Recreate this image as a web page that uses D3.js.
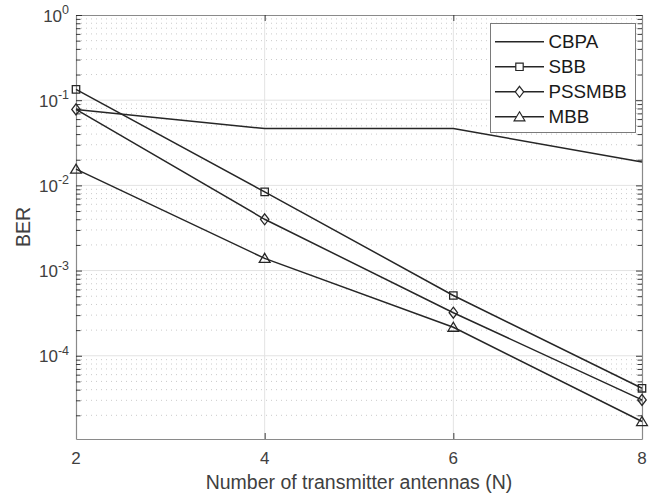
<!DOCTYPE html>
<html>
<head>
<meta charset="utf-8">
<script src="https://cdn.jsdelivr.net/npm/d3@7"></script>
<style>
  html, body { margin: 0; padding: 0; background: #fff; }
  svg { display: block; font-family: "Liberation Sans", Arial, Helvetica, sans-serif; }
</style>
</head>
<body>
<svg id="chart" width="653" height="494"></svg>
<script>
// BER versus number of transmit antennas for four detection schemes
const antennas = [2, 4, 6, 8];
const xTicks = [2, 4, 6, 8];
const yDecades = [1e0, 1e-1, 1e-2, 1e-3, 1e-4];
const yExponents = ["0", "-1", "-2", "-3", "-4"];
const seriesNames = ["CBPA", "SBB", "PSSMBB", "MBB"];
const seriesMarkers = ["none", "square", "diamond", "triangle"];
const cbpa = [0.078, 0.0465, 0.0465, 0.0188];
const sbb = [0.134, 0.0084, 5.1e-4, 4.15e-5];
const pssmbb = [0.078, 0.0040, 3.2e-4, 3.03e-5];
const mbb = [0.0155, 0.00139, 2.16e-4, 1.69e-5];
const seriesValues = [cbpa, sbb, pssmbb, mbb];

const svg = d3.select("#chart");
const plotL = 76, plotR = 642, plotT = 15, plotB = 439;
const ink = "#262626";
const textColor = "#404040";
const axisColor = "#8a8a8a";

const x = d3.scaleLinear().domain([2, 8]).range([plotL, plotR]);
const y = d3.scaleLog().domain([1.054e-5, 1]).range([plotB, plotT]);

// minor log positions (2..9 x each decade) inside the domain
const minorVals = [];
for (let e = -5; e <= -1; e++) {
  for (let k = 2; k <= 9; k++) {
    const v = k * Math.pow(10, e);
    if (v >= y.domain()[0] && v <= y.domain()[1]) minorVals.push(v);
  }
}

// grid: dotted minor, solid major
const grid = svg.append("g");
grid.selectAll("line.minor").data(minorVals).enter().append("line")
  .attr("x1", plotL).attr("x2", plotR)
  .attr("y1", d => y(d)).attr("y2", d => y(d))
  .attr("stroke", "#cacaca").attr("stroke-width", 1)
  .attr("stroke-dasharray", "1,4");
grid.selectAll("line.majy").data(yDecades.slice(1)).enter().append("line")
  .attr("x1", plotL).attr("x2", plotR)
  .attr("y1", d => y(d)).attr("y2", d => y(d))
  .attr("stroke", "#e3e3e3").attr("stroke-width", 1);
grid.selectAll("line.majx").data(xTicks.slice(1, -1)).enter().append("line")
  .attr("y1", plotT).attr("y2", plotB)
  .attr("x1", d => x(d)).attr("x2", d => x(d))
  .attr("stroke", "#e3e3e3").attr("stroke-width", 1);

// axes with inward ticks on all four sides
function styleAxis(g) {
  g.selectAll("path").attr("stroke", axisColor).attr("stroke-width", 1.2);
  g.selectAll("line").attr("stroke", ink).attr("stroke-width", 0.9);
  g.selectAll("text").remove();
}
svg.append("g").attr("transform", `translate(0,${plotB})`)
  .call(d3.axisBottom(x).tickValues(xTicks).tickSizeInner(-6).tickSizeOuter(0))
  .call(styleAxis);
svg.append("g").attr("transform", `translate(0,${plotT})`)
  .call(d3.axisTop(x).tickValues(xTicks).tickSizeInner(-6).tickSizeOuter(0))
  .call(styleAxis);
svg.append("g").attr("transform", `translate(${plotL},0)`)
  .call(d3.axisLeft(y).tickValues(yDecades).tickSizeInner(-6).tickSizeOuter(0))
  .call(styleAxis);
svg.append("g").attr("transform", `translate(${plotL},0)`)
  .call(d3.axisLeft(y).tickValues(minorVals).tickSizeInner(-4.5).tickSizeOuter(0))
  .call(styleAxis).select("path").remove();
svg.append("g").attr("transform", `translate(${plotR},0)`)
  .call(d3.axisRight(y).tickValues(yDecades).tickSizeInner(-6).tickSizeOuter(0))
  .call(styleAxis);
svg.append("g").attr("transform", `translate(${plotR},0)`)
  .call(d3.axisRight(y).tickValues(minorVals).tickSizeInner(-4.5).tickSizeOuter(0))
  .call(styleAxis).select("path").remove();

// tick labels
svg.append("g").selectAll("text").data(xTicks).enter().append("text")
  .attr("x", d => x(d)).attr("y", 464)
  .attr("text-anchor", "middle").attr("font-size", 17).attr("fill", textColor)
  .text(d => d);

const yl = svg.append("g").selectAll("text").data(yDecades).enter().append("text")
  .attr("x", 69).attr("y", d => y(d) + 6.5)
  .attr("text-anchor", "end").attr("font-size", 17).attr("fill", textColor);
yl.append("tspan").text("10");
yl.append("tspan").attr("dy", -7.5).attr("font-size", 12.5).text((d, i) => yExponents[i]);

// axis titles
svg.append("text").attr("x", (plotL + plotR) / 2).attr("y", 489)
  .attr("text-anchor", "middle").attr("font-size", 19.5).attr("fill", textColor)
  .text("Number of transmitter antennas (N)");
svg.append("text").attr("transform", "translate(29.5,227) rotate(-90)")
  .attr("text-anchor", "middle").attr("font-size", 19.5).attr("fill", textColor)
  .text("BER");

// marker shapes
function markerPath(type) {
  if (type === "square") return "M-3.7,-3.7H3.7V3.7H-3.7Z";
  if (type === "diamond") return "M0,-5.5L4.2,0L0,5.5L-4.2,0Z";
  if (type === "triangle") return "M0,-5L5.4,4H-5.4Z";
  return null;
}

// series lines and markers
const line = d3.line().x(d => x(d[0])).y(d => y(d[1]));
seriesValues.forEach((vals, i) => {
  const pts = antennas.map((a, j) => [a, vals[j]]);
  svg.append("path").datum(pts).attr("d", line)
    .attr("fill", "none").attr("stroke", ink).attr("stroke-width", 1.5);
  const mp = markerPath(seriesMarkers[i]);
  if (mp) {
    svg.append("g").selectAll("path").data(pts).enter().append("path")
      .attr("transform", d => `translate(${x(d[0])},${y(d[1])})`)
      .attr("d", mp).attr("fill", "none").attr("stroke", ink).attr("stroke-width", 1.3);
  }
});

// legend
const legend = svg.append("g");
legend.append("rect").attr("x", 490.5).attr("y", 23.5).attr("width", 145).attr("height", 109)
  .attr("fill", "#fff").attr("stroke", "#7a7a7a").attr("stroke-width", 1);
seriesNames.forEach((name, i) => {
  const base = 48.3 + i * 25;
  const cy = base - 6.5;
  legend.append("line").attr("x1", 495).attr("x2", 544).attr("y1", cy).attr("y2", cy)
    .attr("stroke", ink).attr("stroke-width", 1.5);
  const mp = markerPath(seriesMarkers[i]);
  if (mp) {
    legend.append("path").attr("transform", `translate(519.5,${cy})`).attr("d", mp)
      .attr("fill", "#fff").attr("stroke", ink).attr("stroke-width", 1.2);
  }
  legend.append("text").attr("x", 548.5).attr("y", base)
    .attr("font-size", 18.8).attr("fill", "#1a1a1a").text(name);
});
</script>
</body>
</html>
